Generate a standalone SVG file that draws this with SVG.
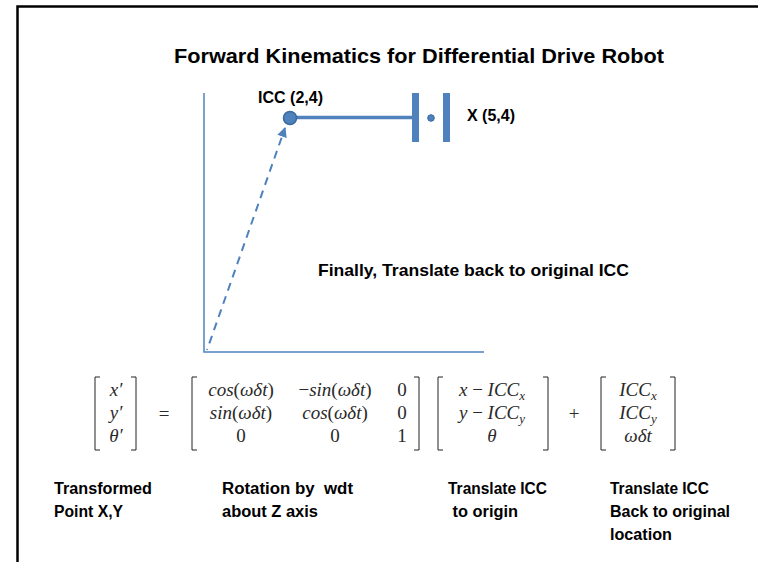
<svg xmlns="http://www.w3.org/2000/svg" width="758" height="562" viewBox="0 0 758 562">
<style>
.t{font-family:"Liberation Sans",Arial,sans-serif;font-weight:bold;fill:#000;white-space:pre}
.m{font-family:"Liberation Serif","DejaVu Serif",serif;font-size:19px;fill:#2a2a2a}
.i{font-style:italic}
.br{fill:none;stroke:#222;stroke-width:1}
.ax{stroke:#4F81BD;stroke-width:1.5;fill:none}
.blue{fill:#4F81BD}
</style>
<defs>
<marker id="ah" viewBox="0 0 10 10" refX="9" refY="5" markerWidth="10" markerHeight="10" markerUnits="userSpaceOnUse" orient="auto">
<path d="M0,0 L10,5 L0,10 z" fill="#4F81BD"/>
</marker>
</defs>
<rect width="758" height="562" fill="#fff"/>
<g id="frame">
<path d="M17.5,562 V6.5 H758" fill="none" stroke="#000" stroke-width="2.5"/>
</g>
<text id="title" class="t" x="174" y="63" font-size="21" textLength="490" lengthAdjust="spacingAndGlyphs">Forward Kinematics for Differential Drive Robot</text>
<g id="axes">
<path class="ax" d="M204,93 V352 H484"/>
</g>
<g id="connectors">
<line x1="207" y1="350" x2="285" y2="128" stroke="#4F81BD" stroke-width="2" stroke-dasharray="1,6,8,6,8,6,8,6,8,6,8,6,8,6,8,6,8,6,8,6,8,6,8,6,8,6,8,6,8,6,8,6,8,6,8,6,8,6" marker-end="url(#ah)"/>
<line x1="296" y1="117.5" x2="415" y2="117.5" stroke="#4F81BD" stroke-width="3.5"/>
</g>
<g id="icc">
<circle cx="290" cy="118" r="6.5" fill="#4F81BD" stroke="#3A6A9E" stroke-width="1.5"/>
<text class="t" x="258" y="103" font-size="16" textLength="65" lengthAdjust="spacingAndGlyphs">ICC (2,4)</text>
</g>
<g id="wheels">
<rect class="blue" x="412" y="93" width="7" height="49"/>
<rect class="blue" x="443" y="93" width="7" height="49"/>
<circle cx="431" cy="118" r="3.3" fill="#4F81BD" stroke="#3A6A9E" stroke-width="1"/>
<text class="t" x="467" y="121" font-size="16" textLength="48" lengthAdjust="spacingAndGlyphs">X (5,4)</text>
</g>
<text id="finally" class="t" x="318" y="276" font-size="17" textLength="311" lengthAdjust="spacingAndGlyphs">Finally, Translate back to original ICC</text>
<g id="equation">
<path class="br" d="M100,377 H95 V450 H100"/>
<path class="br" d="M131,377 H136 V450 H131"/>
<text class="m i" x="116" y="396" text-anchor="middle">x′</text>
<text class="m i" x="116" y="419" text-anchor="middle">y′</text>
<text class="m i" x="116" y="442" text-anchor="middle">θ′</text>
<text class="m" x="164" y="420" text-anchor="middle">=</text>
<path class="br" d="M197,377 H192 V450 H197"/>
<path class="br" d="M414,377 H419 V450 H414"/>
<text class="m" x="241" y="396" text-anchor="middle"><tspan class="i">cos</tspan>(<tspan class="i">ωδt</tspan>)</text>
<text class="m" x="335" y="396" text-anchor="middle">−<tspan class="i">sin</tspan>(<tspan class="i">ωδt</tspan>)</text>
<text class="m" x="402" y="396" text-anchor="middle">0</text>
<text class="m" x="241" y="419" text-anchor="middle"><tspan class="i">sin</tspan>(<tspan class="i">ωδt</tspan>)</text>
<text class="m" x="335" y="419" text-anchor="middle"><tspan class="i">cos</tspan>(<tspan class="i">ωδt</tspan>)</text>
<text class="m" x="402" y="419" text-anchor="middle">0</text>
<text class="m" x="241" y="442" text-anchor="middle">0</text>
<text class="m" x="335" y="442" text-anchor="middle">0</text>
<text class="m" x="402" y="442" text-anchor="middle">1</text>
<path class="br" d="M443,377 H438 V450 H443"/>
<path class="br" d="M543,377 H548 V450 H543"/>
<text class="m" x="492" y="396" text-anchor="middle"><tspan class="i">x</tspan> − <tspan class="i">ICC</tspan><tspan class="i" font-size="13" dy="4">x</tspan></text>
<text class="m" x="492" y="419" text-anchor="middle"><tspan class="i">y</tspan> − <tspan class="i">ICC</tspan><tspan class="i" font-size="13" dy="4">y</tspan></text>
<text class="m i" x="492" y="442" text-anchor="middle">θ</text>
<text class="m" x="574" y="420" text-anchor="middle">+</text>
<path class="br" d="M606,377 H601 V450 H606"/>
<path class="br" d="M670,377 H675 V450 H670"/>
<text class="m" x="638" y="396" text-anchor="middle"><tspan class="i">ICC</tspan><tspan class="i" font-size="13" dy="4">x</tspan></text>
<text class="m" x="638" y="419" text-anchor="middle"><tspan class="i">ICC</tspan><tspan class="i" font-size="13" dy="4">y</tspan></text>
<text class="m i" x="638" y="442" text-anchor="middle">ωδt</text>
</g>
<g id="labels">
<text class="t" font-size="16" x="54" y="494" textLength="98" lengthAdjust="spacingAndGlyphs">Transformed</text>
<text class="t" font-size="16" x="54" y="517" textLength="69" lengthAdjust="spacingAndGlyphs">Point X,Y</text>
<text class="t" font-size="16" x="222" y="494" textLength="131" lengthAdjust="spacingAndGlyphs">Rotation by  wdt</text>
<text class="t" font-size="16" x="222" y="517" textLength="96" lengthAdjust="spacingAndGlyphs">about Z axis</text>
<text class="t" font-size="16" x="448" y="494" textLength="99" lengthAdjust="spacingAndGlyphs">Translate ICC</text>
<text class="t" font-size="16" x="448" y="517" textLength="70" lengthAdjust="spacingAndGlyphs"> to origin</text>
<text class="t" font-size="16" x="610" y="494" textLength="99" lengthAdjust="spacingAndGlyphs">Translate ICC</text>
<text class="t" font-size="16" x="610" y="517" textLength="120" lengthAdjust="spacingAndGlyphs">Back to original</text>
<text class="t" font-size="16" x="610" y="540" textLength="62" lengthAdjust="spacingAndGlyphs">location</text>
</g>
</svg>
